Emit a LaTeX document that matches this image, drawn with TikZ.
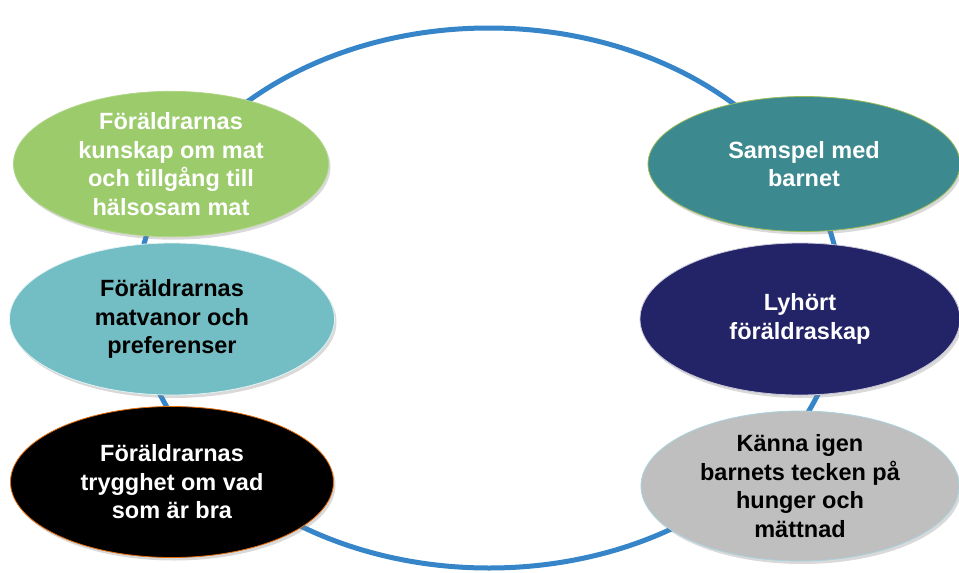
\documentclass[tikz,border=0pt]{standalone}
\usepackage{fontspec}
\setmainfont{Liberation Sans}
\usetikzlibrary{shadows,shapes.geometric}
\definecolor{ringblue}{HTML}{3585C8}
\definecolor{cgreen}{HTML}{9BCB6A}
\definecolor{clteal}{HTML}{72BEC4}
\definecolor{cdteal}{HTML}{3C8A8F}
\definecolor{cnavy}{HTML}{232367}
\definecolor{cgray}{HTML}{BFBFBF}
\definecolor{corange}{HTML}{E46C0A}
\definecolor{cborderg}{HTML}{9BBB59}
\definecolor{cborderb}{HTML}{A9D3DC}
\tikzset{
  oval/.style={ellipse, inner sep=0pt, align=center,
    font=\fontsize{23.5pt}{28.5pt}\selectfont\bfseries,
    line width=0.8pt,
    drop shadow={opacity=0.3, shadow xshift=2pt, shadow yshift=-3pt}},
  ring/.style={draw=ringblue, line width=5pt}
}
\begin{document}
\begin{tikzpicture}[x=1pt,y=-1pt]
\useasboundingbox (0,0) rectangle (959,573);
\draw[ring] (489,298) ellipse [x radius=352, y radius=270];
\node[oval, fill=cgreen, draw=cgreen!80!white, text=white, minimum width=315pt, minimum height=138pt] (g) at (171,164)
  {Föräldrarnas\\kunskap om mat\\och tillgång till\\hälsosam mat};
\node[oval, fill=clteal, draw=white!80!clteal, text=black, minimum width=325pt, minimum height=152pt] (t) at (172,319)
  {Föräldrarnas\\matvanor och\\preferenser};
\node[oval, fill=black, draw=corange, text=white, minimum width=323pt, minimum height=151pt] (b) at (172,482)
  {Föräldrarnas\\trygghet om vad\\som är bra};
\node[oval, fill=cdteal, draw=cborderg, text=white, minimum width=312pt, minimum height=135pt] (s) at (804,164)
  {Samspel med\\barnet};
\node[oval, fill=cnavy, draw=white!75!cnavy, text=white, minimum width=320pt, minimum height=152pt] (n) at (800,319)
  {Lyhört\\föräldraskap};
\node[oval, fill=cgray, draw=cborderb, text=black, minimum width=318pt, minimum height=150pt] (k) at (800,486)
  {Känna igen\\barnets tecken på\\hunger och\\mättnad};
\end{tikzpicture}
\end{document}
